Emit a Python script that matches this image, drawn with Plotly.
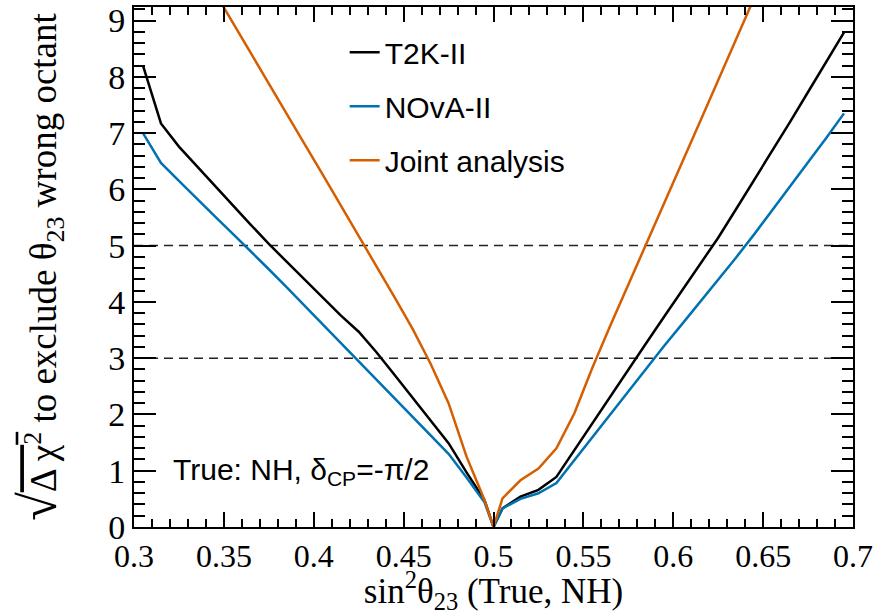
import plotly.graph_objects as go

# ---------------- data ----------------
x_det = [0.305, 0.315, 0.325, 0.335, 0.345, 0.355, 0.365, 0.375, 0.385, 0.395,
         0.405, 0.415, 0.425, 0.435, 0.445, 0.455, 0.465, 0.475, 0.485, 0.495,
         0.5,
         0.505, 0.515, 0.525, 0.535, 0.545, 0.555, 0.565, 0.575, 0.585, 0.595,
         0.605, 0.615, 0.625, 0.635, 0.645, 0.655, 0.665, 0.675, 0.685, 0.695]

t2k_ii = [8.20, 7.17, 6.76, 6.41, 6.06, 5.71, 5.37, 5.03, 4.71, 4.39,
          4.07, 3.76, 3.47, 3.10, 2.70, 2.30, 1.90, 1.49, 0.97, 0.48,
          0.0,
          0.33, 0.54, 0.66, 0.89, 1.37, 1.84, 2.32, 2.80, 3.27, 3.74,
          4.21, 4.67, 5.14, 5.65, 6.16, 6.68, 7.20, 7.73, 8.26, 8.79]

nova_ii = [7.00, 6.47, 6.15, 5.83, 5.52, 5.21, 4.90, 4.58, 4.26, 3.93,
           3.60, 3.27, 2.94, 2.61, 2.28, 1.96, 1.63, 1.30, 0.88, 0.44,
           0.0,
           0.33, 0.50, 0.60, 0.78, 1.19, 1.60, 2.01, 2.42, 2.83, 3.22,
           3.61, 4.00, 4.39, 4.79, 5.20, 5.62, 6.05, 6.48, 6.91, 7.35]

x_joint = [0.345, 0.355, 0.365, 0.375, 0.385, 0.395, 0.405, 0.415, 0.425, 0.435,
           0.445, 0.455, 0.465, 0.475, 0.485, 0.495,
           0.5,
           0.505, 0.515, 0.525, 0.535, 0.545, 0.555, 0.565, 0.575, 0.585, 0.595,
           0.605, 0.615, 0.625, 0.635, 0.645]

joint = [9.50, 8.95, 8.42, 7.88, 7.33, 6.80, 6.26, 5.72, 5.18, 4.63,
         4.08, 3.52, 2.90, 2.20, 1.25, 0.48,
         0.0,
         0.51, 0.83, 1.04, 1.40, 2.02, 2.83, 3.58, 4.30, 5.02, 5.75,
         6.48, 7.21, 7.94, 8.67, 9.40]

sigma_levels = [3, 5]
x_range = [0.3, 0.7]
y_range = [0, 9.24]
x_ticks = [0.3, 0.35, 0.4, 0.45, 0.5, 0.55, 0.6, 0.65, 0.7]
x_tick_labels = ["0.3", "0.35", "0.4", "0.45", "0.5", "0.55", "0.6", "0.65", "0.7"]
y_ticks = [0, 1, 2, 3, 4, 5, 6, 7, 8, 9]

series_names = ["T2K-II", "NOvA-II", "Joint analysis"]
series_colors = ["#000000", "#0072B2", "#D55E00"]

# ---------------- figure ----------------
fig = go.Figure()

for lvl in sigma_levels:
    fig.add_trace(go.Scatter(x=x_range, y=[lvl, lvl], mode="lines",
                             line=dict(color="#222222", width=1.5, dash="9px,6px"),
                             showlegend=False, hoverinfo="skip"))

for name, xs, ys, col in zip(series_names, [x_det, x_det, x_joint],
                             [t2k_ii, nova_ii, joint], series_colors):
    fig.add_trace(go.Scatter(x=xs, y=ys, mode="lines", name=name,
                             legendgroup=name,
                             line=dict(color=col, width=2.5)))

serif = "Liberation Serif, Times New Roman, serif"
sans = "Liberation Sans, Arial, sans-serif"

fig.update_layout(
    width=876, height=615,
    margin=dict(l=134, r=23, t=7, b=88),
    paper_bgcolor="white", plot_bgcolor="white",
    font=dict(family=serif, size=33, color="black"),
    showlegend=True,
    legend=dict(x=0.293, y=0.963, xanchor="left", yanchor="top",
                bgcolor="rgba(0,0,0,0)", font=dict(family=sans, size=30, color="black"),
                tracegroupgap=12, itemwidth=30),
    annotations=[dict(text="True: NH, δ<sub>CP</sub>=-π/2", x=0.051, y=0.106,
                      xref="paper", yref="paper", xanchor="left", yanchor="middle",
                      showarrow=False, font=dict(family=sans, size=30, color="black"))],
)

fig.update_xaxes(
    range=x_range, tickmode="array", tickvals=x_ticks, ticktext=x_tick_labels,
    automargin=False,
    showgrid=False, zeroline=False,
    showline=True, linecolor="black", linewidth=2, mirror="allticks",
    ticks="inside", ticklen=15, tickwidth=1.5, tickcolor="black",
    minor=dict(ticks="inside", dtick=0.01, tick0=0.3, ticklen=8, tickwidth=1.5,
               tickcolor="black", showgrid=False),
    tickfont=dict(family=serif, size=32, color="black"),
    title=dict(text="sin<sup>2</sup>θ<sub>23</sub> (True, NH)",
               font=dict(family=serif, size=35, color="black"), standoff=10),
)

fig.update_yaxes(
    range=y_range, tickmode="array", tickvals=y_ticks,
    automargin=False,
    showgrid=False, zeroline=False,
    showline=True, linecolor="black", linewidth=2, mirror="allticks",
    ticks="inside", ticklen=22, tickwidth=1.5, tickcolor="black",
    minor=dict(ticks="inside", dtick=0.2, tick0=0, ticklen=11, tickwidth=1.5,
               tickcolor="black", showgrid=False),
    tickfont=dict(family=serif, size=34, color="black"),
    title=dict(text="<span style='font-size:52px'>√</span><span style='text-decoration:overline'>Δ χ<sup>2</sup></span> to exclude θ<sub>23</sub> wrong octant",
               font=dict(family=serif, size=37, color="black"), standoff=40),
)

fig.write_html("out.html")
